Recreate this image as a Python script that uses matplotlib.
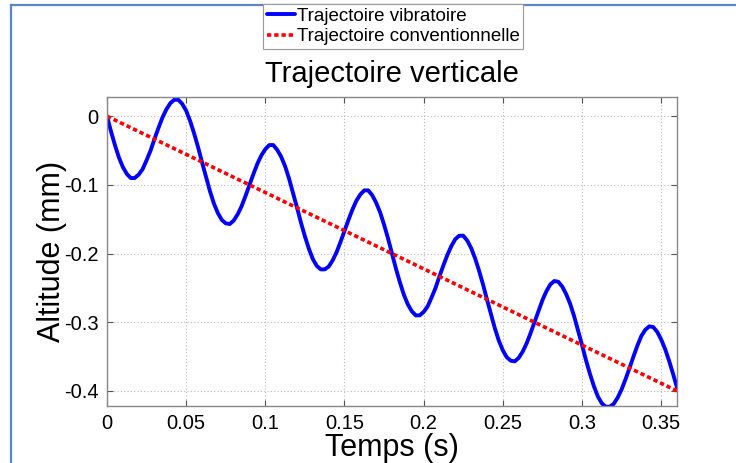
import numpy as np
import matplotlib
matplotlib.use('Agg')
import matplotlib.pyplot as plt
from matplotlib.lines import Line2D

plt.rcParams['font.family'] = ['Liberation Sans', 'DejaVu Sans']

#%% Données
# Temps (s), pas de 2.5 ms
temps = np.linspace(0, 0.36, 145)
# Trajectoire vibratoire (mm)
vibratoire = [
    0.000, -0.022, -0.042, -0.060, -0.074, -0.084, -0.090, -0.090,
    -0.085, -0.077, -0.064, -0.050, -0.033, -0.017, -0.002, 0.010,
    0.019, 0.024, 0.024, 0.018, 0.008, -0.007, -0.025, -0.045,
    -0.067, -0.088, -0.109, -0.127, -0.141, -0.151, -0.156, -0.157,
    -0.152, -0.143, -0.131, -0.116, -0.100, -0.084, -0.069, -0.057,
    -0.048, -0.042, -0.042, -0.049, -0.059, -0.073, -0.091, -0.112,
    -0.133, -0.155, -0.175, -0.193, -0.208, -0.218, -0.223, -0.223,
    -0.219, -0.210, -0.198, -0.183, -0.167, -0.151, -0.136, -0.123,
    -0.114, -0.108, -0.108, -0.115, -0.126, -0.140, -0.158, -0.178,
    -0.200, -0.222, -0.242, -0.260, -0.274, -0.284, -0.290, -0.290,
    -0.285, -0.277, -0.264, -0.250, -0.233, -0.217, -0.202, -0.189,
    -0.179, -0.174, -0.174, -0.181, -0.192, -0.207, -0.225, -0.245,
    -0.267, -0.288, -0.309, -0.327, -0.341, -0.351, -0.356, -0.357,
    -0.352, -0.343, -0.331, -0.316, -0.300, -0.284, -0.268, -0.255,
    -0.245, -0.240, -0.241, -0.248, -0.259, -0.273, -0.291, -0.312,
    -0.333, -0.355, -0.375, -0.393, -0.408, -0.418, -0.423, -0.423,
    -0.419, -0.410, -0.398, -0.383, -0.367, -0.350, -0.334, -0.320,
    -0.311, -0.306, -0.307, -0.314, -0.325, -0.339, -0.356, -0.375,
    -0.395]
# Trajectoire conventionnelle (mm)
t_conv = [0.0, 0.36]
conventionnelle = [0.0, -0.4]

xticks = [0, 0.05, 0.1, 0.15, 0.2, 0.25, 0.3, 0.35]
xticklabels = ['0', '0.05', '0.1', '0.15', '0.2', '0.25', '0.3', '0.35']
yticks = [0, -0.1, -0.2, -0.3, -0.4]
yticklabels = ['0', '-0.1', '-0.2', '-0.3', '-0.4']

#%% Figure
fig = plt.figure(figsize=(7.36, 4.63), dpi=100)
ax = fig.add_axes([0.1454, 0.1231, 0.7744, 0.6674])

l1, = ax.plot(temps, vibratoire, color='#0000ff', lw=2.8,
              label='Trajectoire vibratoire', solid_capstyle='round')
l2, = ax.plot(t_conv, conventionnelle, color='#ff0000', lw=2.6,
              linestyle=(0, (1.2, 0.8)), label='Trajectoire conventionnelle')

ax.set_xlim(0, 0.36)
ax.set_ylim(-0.422, 0.028)
ax.set_xticks(xticks)
ax.set_xticklabels(xticklabels)
ax.set_yticks(yticks)
ax.set_yticklabels(yticklabels)
ax.tick_params(direction='in', labelsize=14.5, top=True, right=True,
               length=4, color='#555555', pad=6)
ax.grid(True, linestyle=(0, (1, 2)), color='#bbbbbb', lw=0.8)
for sp in ax.spines.values():
    sp.set_color('#888888')
    sp.set_linewidth(1.0)

ax.set_xlabel('Temps (s)', fontsize=22, labelpad=0)
ax.set_ylabel('Altitude (mm)', fontsize=22, labelpad=-2)
ax.set_title('Trajectoire verticale', fontsize=21, pad=11)

leg = fig.legend(handles=[l1, l2], loc='upper center',
                 bbox_to_anchor=(0.534, 0.992), fontsize=13.5,
                 fancybox=False, edgecolor='#999999', framealpha=1,
                 handlelength=1.5, handletextpad=0.1, borderpad=0.2,
                 labelspacing=0.2, borderaxespad=0)
leg.get_frame().set_linewidth(0.8)

# Cadre bleu autour de l'image
fig.add_artist(Line2D([11 / 736, 11 / 736], [0, 1 - 5 / 463],
                      color='#5b86c5', lw=1.6, transform=fig.transFigure))
fig.add_artist(Line2D([11 / 736, 1], [1 - 5 / 463, 1 - 5 / 463],
                      color='#5b86c5', lw=1.6, transform=fig.transFigure))

fig.savefig('out.png', dpi=100)
